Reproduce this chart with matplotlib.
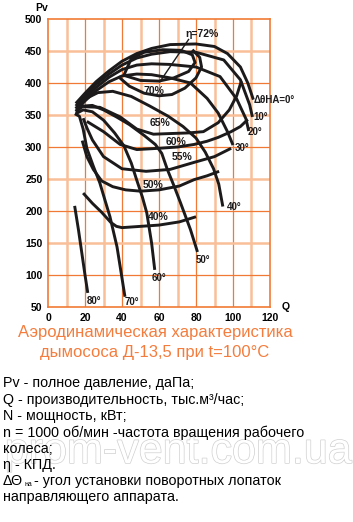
import matplotlib
matplotlib.use('Agg')
from matplotlib import pyplot as plt
import matplotlib.patheffects as pe

plt.rcParams['font.family'] = ['Liberation Sans', 'DejaVu Sans']

# Pressure curves Pv(Q) for guide vane angles
q_0 = [15, 20, 26, 33, 40, 48, 56, 66, 80, 90, 97, 104, 108, 111]
p_0 = [368, 384, 402, 419, 434, 446, 454, 460, 461, 457, 446, 425, 400, 374]
q_10 = [15, 20, 26, 33, 40, 48, 56, 66, 80, 95, 104, 109, 110.5]
p_10 = [364, 380, 398, 414, 428, 439, 445, 449, 448, 436, 405, 366, 347]
q_20 = [15, 20, 26, 33, 40, 48, 56, 66, 80, 93, 102, 107, 108.5]
p_20 = [360, 376, 393, 409, 421, 428, 430, 429, 425, 410, 375, 344, 325]
q_30 = [15, 20, 26, 33, 40, 48, 56, 66, 77, 86, 92, 97, 100]
p_30 = [356, 372, 388, 402, 411, 414, 413, 408, 400, 376, 353, 324, 303]
q_40 = [15, 20, 27, 35, 45, 55, 65, 73, 80, 85, 89.5, 92.3, 94.5]
p_40 = [360, 375, 385, 387, 379, 364, 348, 332, 314, 292, 266, 242, 207]
q_50 = [15, 19, 24, 30, 37, 44, 52, 58, 61.5, 64.5, 68, 71.6, 77, 80.8]
p_50 = [355, 364, 365, 358, 347, 335, 318, 304, 290, 265, 240, 213, 171, 136]
q_60 = [15, 19, 24, 30, 36, 41, 45, 48, 51, 53.4, 56, 57.7]
p_60 = [352, 358, 355, 342, 322, 302, 275, 248, 222, 197, 150, 108]
q_70 = [14.5, 17, 19, 21, 24.5, 28, 31, 33.5, 37.3, 41.6]
p_70 = [352, 348, 328, 298, 270, 244, 215, 191, 144, 66]
q_80 = [14.4, 16.5, 18.5, 20, 21.5]
p_80 = [208, 170, 130, 100, 72]

# Efficiency contours
q_eta72 = [41, 45, 52, 62, 72, 78, 79.5, 76, 68, 60, 50, 41]
p_eta72 = [412, 438, 448, 452, 451, 444, 432, 418, 408, 403, 404, 412]
q_eta70 = [38, 44, 52, 60, 67, 74, 80, 83, 82, 78]
p_eta70 = [410, 395, 384, 380, 382, 392, 408, 425, 440, 452]
q_eta65 = [19, 28, 39, 48, 57, 66, 76, 84, 92, 98, 102, 104.5]
p_eta65 = [363, 362, 347, 328, 320, 321, 322, 324, 338, 358, 380, 403]
q_eta60 = [21, 30, 39, 48, 60, 70, 79, 86, 92, 99, 104, 108]
p_eta60 = [340, 324, 304, 296, 298, 300, 304, 309, 315, 324, 332, 343]
q_eta55 = [19, 21, 24, 30, 40, 53, 66, 79, 90, 99]
p_eta55 = [345, 330, 311, 285, 266, 262, 265, 276, 285, 298]
q_eta50 = [18.5, 21, 24.5, 29, 35, 42, 50, 60, 71, 79, 86, 92.5]
p_eta50 = [310, 285, 265, 247, 238, 233, 231, 233, 239, 249, 255, 262]
q_eta40 = [19, 24, 29, 34, 37, 40, 50, 60, 71, 80]
p_eta40 = [228, 212, 198, 182, 176, 174, 176, 178, 183, 191]

# leader line of the 72% label
q_lead = [76, 60.5]
p_lead = [468, 402]

angle_labels = ['\u0394\u03b8HA=0\u00b0', '10\u00b0', '20\u00b0', '30\u00b0', '40\u00b0',
                '50\u00b0', '60\u00b0', '70\u00b0', '80\u00b0']
angle_label_q = [111, 111, 108, 101, 96.5, 80, 56, 41.5, 21]
angle_label_p = [374, 347, 323, 299, 207, 124, 96, 58, 60]

eta_labels = ['\u03b7=72%', '70%', '65%', '60%', '55%', '50%', '40%']
eta_label_q = [74.4, 51.5, 55, 63.5, 67, 51, 54]
eta_label_p = [476, 388, 338, 308, 285, 241, 190]

x_ticks = [0, 20, 40, 60, 80, 100, 120]
y_ticks = [50, 100, 150, 200, 250, 300, 350, 400, 450, 500]

orange = '#f07a35'
light_orange = '#f9bf98'
ink = '#1c1a1a'

fig = plt.figure(figsize=(3.53, 5.22), dpi=100)
ax = fig.add_axes([48 / 353, 1 - 307 / 522, 222 / 353, 288 / 522])
ax.set_xlim(0, 120)
ax.set_ylim(50, 500)

# grid: multiples of 20 / 100 darker, the rest light and wider
for xv in range(10, 120, 10):
    if xv % 20 == 0:
        ax.axvline(xv, color=orange, lw=0.9, zorder=0)
    else:
        ax.axvline(xv, color=light_orange, lw=1.8, zorder=0)
for yv in y_ticks[1:-1]:
    if yv % 100 == 0:
        ax.axhline(yv, color=orange, lw=0.9, zorder=0)
    else:
        ax.axhline(yv, color=light_orange, lw=1.8, zorder=0)
for s in ax.spines.values():
    s.set_color(orange)
    s.set_linewidth(1.2)

curves = [(q_0, p_0), (q_10, p_10), (q_20, p_20), (q_30, p_30), (q_40, p_40),
          (q_50, p_50), (q_60, p_60), (q_70, p_70), (q_80, p_80),
          (q_eta72, p_eta72), (q_eta70, p_eta70), (q_eta65, p_eta65),
          (q_eta60, p_eta60), (q_eta55, p_eta55), (q_eta50, p_eta50),
          (q_eta40, p_eta40)]
for q, p in curves:
    ax.plot(q, p, color=ink, lw=2.1, solid_capstyle='butt', solid_joinstyle='round')
ax.plot(q_lead, p_lead, color=ink, lw=1.0)

for txt, q, p in zip(angle_labels, angle_label_q, angle_label_p):
    ax.text(q, p, txt, fontsize=7, fontweight='bold', color=ink, va='center', ha='left')
for txt, q, p in zip(eta_labels, eta_label_q, eta_label_p):
    ax.text(q, p, txt, fontsize=7.5, fontweight='bold', color=ink, va='center', ha='left')

ax.set_xticks(x_ticks)
ax.set_yticks(y_ticks)
ax.tick_params(length=0, labelsize=7.5, pad=4)
for lab in ax.get_xticklabels() + ax.get_yticklabels():
    lab.set_fontweight('bold')

fig.text(35 / 353, 1 - 8 / 522, 'Pv', fontsize=7.5, fontweight='bold', va='center')
fig.text(282 / 353, 1 - 307 / 522, 'Q', fontsize=7.5, fontweight='bold', va='center')

title_color = '#f47c3c'
fig.text(155 / 353, 1 - 333 / 522, 'Аэродинамическая характеристика',
         fontsize=12, color=title_color, ha='center', va='center')
fig.text(155 / 353, 1 - 353 / 522, 'дымососа Д-13,5 при t=100°C',
         fontsize=12, color=title_color, ha='center', va='center')

# watermark
fig.text(178 / 353, 1 - 452 / 522, 'prom-vent.com.ua', fontsize=31, color='white',
         ha='center', va='center', zorder=0,
         path_effects=[pe.withStroke(linewidth=1.0, foreground='#d0d0d0')])

legend_lines = ['Pv - полное давление, даПа;',
                'Q - производительность, тыс.м³/час;',
                'N - мощность, кВт;',
                'n = 1000 об/мин -частота вращения рабочего',
                'колеса;',
                'η - КПД.',
                None,
                'направляющего аппарата.']
line_y = [383, 400, 416, 433, 449, 465, 481, 497]
for txt, py in zip(legend_lines, line_y):
    if txt is not None:
        fig.text(3 / 353, 1 - py / 522, txt, fontsize=10.3, va='center', color='black')
fig.text(3 / 353, 1 - 481 / 522, 'ΔΘ', fontsize=10.3, va='center')
fig.text(24 / 353, 1 - 485 / 522, 'на', fontsize=5, va='center')
fig.text(34 / 353, 1 - 481 / 522, '- угол установки поворотных лопаток',
         fontsize=10.3, va='center')

fig.savefig('out.png', dpi=100)
